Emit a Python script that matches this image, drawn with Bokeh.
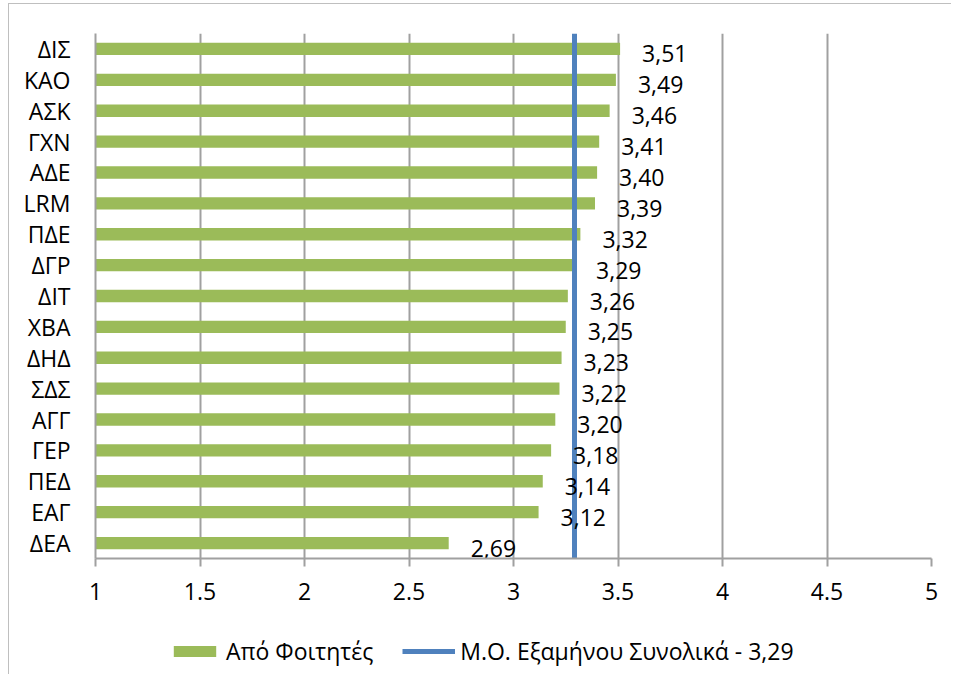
from bokeh.plotting import figure
from bokeh.layouts import column
from bokeh.models import FactorRange, Range1d, FixedTicker, Legend, LegendItem
from bokeh.core.properties import value
from bokeh.embed import file_html
from bokeh.resources import INLINE

categories = ["ΔΙΣ", "ΚΑΟ", "ΑΣΚ", "ΓΧΝ", "ΑΔΕ", "LRM", "ΠΔΕ", "ΔΓΡ", "ΔΙΤ",
              "ΧΒΑ", "ΔΗΔ", "ΣΔΣ", "ΑΓΓ", "ΓΕΡ", "ΠΕΔ", "ΕΑΓ", "ΔΕΑ"]
scores = [3.51, 3.49, 3.46, 3.41, 3.40, 3.39, 3.32, 3.29, 3.26,
          3.25, 3.23, 3.22, 3.20, 3.18, 3.14, 3.12, 2.69]
semester_mean = 3.29
x_ticks = [1, 1.5, 2, 2.5, 3, 3.5, 4, 4.5, 5]
series_name = "Από Φοιτητές"
mean_name = "Μ.Ο. Εξαμήνου Συνολικά - 3,29"

FONT = "Open Sans"
GREEN = "#9BBB59"
BLUE = "#4F81BD"
GRAY = "#A0A0A0"

score_labels = [f"{v:.2f}".replace(".", ",") for v in scores]

p = figure(width=942, height=612, output_backend="svg", toolbar_location=None,
           y_range=FactorRange(factors=list(reversed(categories))),
           x_range=Range1d(x_ticks[0], x_ticks[-1]),
           min_border_left=86, min_border_right=20, min_border_top=29, min_border_bottom=58)
p.outline_line_color = None
p.background_fill_color = "white"
p.border_fill_color = "white"

bars = p.hbar(y=categories, right=scores, left=x_ticks[0], height=0.4,
              fill_color=GREEN, line_color=None)
p.vspan(x=[semester_mean], line_color=BLUE, line_width=5)

p.text(x=scores, y=categories, text=score_labels, x_offset=22, y_offset=5,
       text_font=value(FONT), text_font_size="23px", text_align="left",
       text_baseline="middle", text_color="black")

p.xaxis.ticker = FixedTicker(ticks=x_ticks)
p.xaxis.major_label_overrides = {t: f"{t:g}" for t in x_ticks}
p.xaxis.axis_line_color = GRAY
p.xaxis.axis_line_width = 2
p.xaxis.major_tick_line_color = GRAY
p.xaxis.major_tick_line_width = 2
p.xaxis.major_tick_out = 8
p.xaxis.major_tick_in = 0
p.xaxis.minor_tick_line_color = None
p.xaxis.major_label_standoff = 16
p.xaxis.major_label_text_font = FONT
p.xaxis.major_label_text_font_size = "23px"
p.xaxis.major_label_text_color = "black"

p.yaxis.axis_line_color = GRAY
p.yaxis.axis_line_width = 2
p.yaxis.major_tick_line_color = None
p.yaxis.minor_tick_line_color = None
p.yaxis.major_tick_out = 0
p.yaxis.major_label_standoff = 25
p.yaxis.major_label_text_font = FONT
p.yaxis.major_label_text_font_size = "23px"
p.yaxis.major_label_text_color = "black"

p.xgrid.ticker = FixedTicker(ticks=x_ticks)
p.xgrid.grid_line_color = GRAY
p.xgrid.grid_line_width = 2
p.ygrid.grid_line_color = None

# legend strip below the chart (zero-width bar / single-point line: only their legend glyphs show)
lg = figure(width=942, height=58, output_backend="svg", toolbar_location=None,
            x_axis_type=None, y_axis_type=None,
            x_range=Range1d(x_ticks[0], x_ticks[-1]), y_range=Range1d(0, 1),
            min_border_left=0, min_border_right=0, min_border_top=0, min_border_bottom=0)
lg.outline_line_color = None
lg.grid.visible = False
lg_bar = lg.hbar(y=[0.5], left=[semester_mean], right=[semester_mean], height=0.4,
                 fill_color=GREEN, line_color=None)
lg_line = lg.line(x=[semester_mean], y=[0.5], line_color=BLUE, line_width=5)
legend = Legend(items=[LegendItem(label=series_name, renderers=[lg_bar]),
                       LegendItem(label=mean_name, renderers=[lg_line])],
                location=(73, 7), orientation="horizontal",
                glyph_width=53, glyph_height=14, label_standoff=5, spacing=29,
                padding=0, margin=0, border_line_color=None, background_fill_alpha=0,
                label_text_font=FONT, label_text_font_size="23px", label_text_color="black")
lg.add_layout(legend, "center")

layout = column(p, lg, spacing=0,
                styles={"margin-left": "8px", "margin-top": "3px",
                        "border-left": "1px solid #BFBFBF", "border-top": "1px solid #BFBFBF"})
open("out.html", "w").write(file_html(layout, INLINE))
